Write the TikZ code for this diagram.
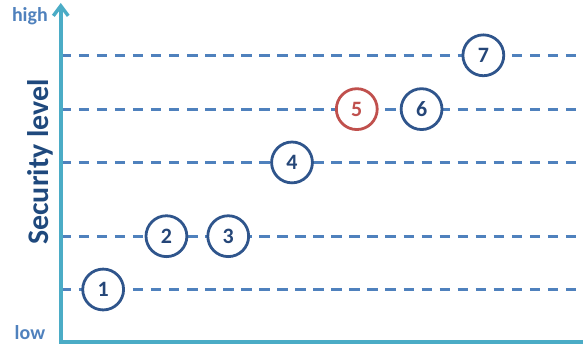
\documentclass[tikz,border=0pt]{standalone}
\usepackage{fontspec}
\setmainfont{Carlito}
\usepackage{tikz}
\usetikzlibrary{arrows.meta}

\begin{document}
\begin{tikzpicture}[x=1pt,y=1pt,yscale=-1,xscale=1]
\path (0,0) rectangle (585,347); %set diagram size

%Straight Lines [id:level1] 
\draw [color={rgb, 255:red, 79; green, 129; blue, 189 }, line width=3.2, dash pattern={on 10.5pt off 7.6pt}]  (61,290.5) -- (585,290.5) ;
%Straight Lines [id:level2] 
\draw [color={rgb, 255:red, 79; green, 129; blue, 189 }, line width=3.2, dash pattern={on 10.5pt off 7.6pt}]  (61,237) -- (585,237) ;
%Straight Lines [id:level3] 
\draw [color={rgb, 255:red, 79; green, 129; blue, 189 }, line width=3.2, dash pattern={on 10.5pt off 7.6pt}]  (61,163) -- (585,163) ;
%Straight Lines [id:level4] 
\draw [color={rgb, 255:red, 79; green, 129; blue, 189 }, line width=3.2, dash pattern={on 10.5pt off 7.6pt}]  (61,109.5) -- (585,109.5) ;
%Straight Lines [id:level5] 
\draw [color={rgb, 255:red, 79; green, 129; blue, 189 }, line width=3.2, dash pattern={on 10.5pt off 7.6pt}]  (61,56) -- (585,56) ;

%Straight Lines [id:yaxis] 
\draw [color={rgb, 255:red, 75; green, 172; blue, 198 }, line width=3.5, -{Straight Barb[length=10pt,width=15pt]}]  (61,345) -- (61,3) ;
%Straight Lines [id:xaxis] 
\draw [color={rgb, 255:red, 75; green, 172; blue, 198 }, line width=4]  (59.25,343) -- (585,343) ;

%Shape: Circle [id:c1] 
\draw (103.5,290.5) node [circle, draw={rgb, 255:red, 47; green, 85; blue, 140 }, fill=white, line width=2.8, minimum size=41pt, inner sep=0pt, text={rgb, 255:red, 37; green, 70; blue, 120 }, font=\bfseries\fontsize{22}{22}\selectfont] (c1) {1};
%Shape: Circle [id:c2] 
\draw (167,237) node [circle, draw={rgb, 255:red, 47; green, 85; blue, 140 }, fill=white, line width=2.8, minimum size=41pt, inner sep=0pt, text={rgb, 255:red, 37; green, 70; blue, 120 }, font=\bfseries\fontsize{22}{22}\selectfont] (c2) {2};
%Shape: Circle [id:c3] 
\draw (229,237) node [circle, draw={rgb, 255:red, 47; green, 85; blue, 140 }, fill=white, line width=2.8, minimum size=41pt, inner sep=0pt, text={rgb, 255:red, 37; green, 70; blue, 120 }, font=\bfseries\fontsize{22}{22}\selectfont] (c3) {3};
%Shape: Circle [id:c4] 
\draw (293,163) node [circle, draw={rgb, 255:red, 47; green, 85; blue, 140 }, fill=white, line width=2.8, minimum size=41pt, inner sep=0pt, text={rgb, 255:red, 37; green, 70; blue, 120 }, font=\bfseries\fontsize{22}{22}\selectfont] (c4) {4};
%Shape: Circle [id:c5] 
\draw (358,109.5) node [circle, draw={rgb, 255:red, 192; green, 80; blue, 77 }, fill=white, line width=2.8, minimum size=41pt, inner sep=0pt, text={rgb, 255:red, 192; green, 80; blue, 77 }, font=\bfseries\fontsize{22}{22}\selectfont] (c5) {5};
%Shape: Circle [id:c6] 
\draw (423,109.5) node [circle, draw={rgb, 255:red, 47; green, 85; blue, 140 }, fill=white, line width=2.8, minimum size=41pt, inner sep=0pt, text={rgb, 255:red, 37; green, 70; blue, 120 }, font=\bfseries\fontsize{22}{22}\selectfont] (c6) {6};
%Shape: Circle [id:c7] 
\draw (485,55.5) node [circle, draw={rgb, 255:red, 47; green, 85; blue, 140 }, fill=white, line width=2.8, minimum size=41pt, inner sep=0pt, text={rgb, 255:red, 37; green, 70; blue, 120 }, font=\bfseries\fontsize{22}{22}\selectfont] (c7) {7};

% Text Node
\draw (30,22) node [anchor=base][inner sep=0pt, color={rgb, 255:red, 79; green, 129; blue, 189 }, font=\bfseries\fontsize{20}{20}\selectfont] (high) {high};
% Text Node
\draw (30,340.5) node [anchor=base][inner sep=0pt, color={rgb, 255:red, 79; green, 129; blue, 189 }, font=\bfseries\fontsize{20}{20}\selectfont] (low) {low};
% Text Node
\draw (40,162.5) node [rotate=90][inner sep=0pt, color={rgb, 255:red, 31; green, 73; blue, 125 }, font=\bfseries\fontsize{30}{30}\selectfont] (seclevel) {Security level};

\end{tikzpicture}
\end{document}
